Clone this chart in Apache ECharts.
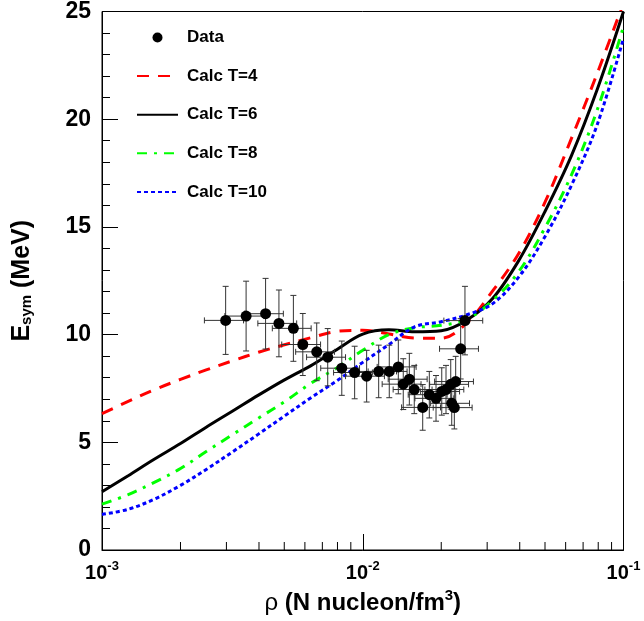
<!DOCTYPE html>
<html><head><meta charset="utf-8">
<script src="https://cdn.jsdelivr.net/npm/echarts@6/dist/echarts.min.js"></script>
<style>html,body{margin:0;padding:0;background:#fff}#c{width:644px;height:621px}</style>
</head><body><div id="c"></div>
<script>
// ---- data points (density in nucleon/fm^3, Esym in MeV) ----
const dataX = [0.00298, 0.00357, 0.00424, 0.00477, 0.00542, 0.00589, 0.00666, 0.00734, 0.00831, 0.00931,
  0.01035, 0.01151, 0.01264, 0.01369, 0.01430, 0.01509, 0.01576, 0.01698, 0.01800, 0.01910,
  0.02009, 0.02086, 0.02175, 0.02272, 0.02194, 0.02245, 0.02374, 0.02466];
const dataY = [10.66, 10.86, 10.97, 10.52, 10.29, 9.54, 9.20, 8.95, 8.44, 8.24,
  8.07, 8.29, 8.29, 8.50, 7.70, 7.93, 7.45, 6.62, 7.21, 7.04,
  7.36, 7.45, 7.69, 7.82, 6.81, 6.61, 9.34, 10.65];
const dataXErr = [0.00051, 0.00061, 0.00072, 0.00081, 0.00092, 0.00100, 0.00113, 0.00125, 0.00141, 0.00158,
  0.00176, 0.00196, 0.00215, 0.00233, 0.00243, 0.00257, 0.00268, 0.00289, 0.00306, 0.00325,
  0.00342, 0.00355, 0.00370, 0.00386, 0.00373, 0.00382, 0.00404, 0.00419];
const dataYErr = [1.58, 1.62, 1.64, 1.55, 1.53, 1.44, 1.34, 1.33, 1.26, 1.22,
  1.20, 1.22, 1.22, 1.25, 1.18, 1.20, 1.12, 1.06, 1.08, 1.06,
  1.10, 1.12, 1.15, 1.17, 1.02, 0.99, 1.40, 1.59];

// ---- calculations ----
const curveX = [0.001, 0.00126, 0.00158, 0.002, 0.00251, 0.00316, 0.00398, 0.00501, 0.00631, 0.00794,
  0.01, 0.0126, 0.0158, 0.02, 0.0251, 0.0316, 0.0398, 0.0501, 0.0631, 0.0794, 0.1];
const calcT4 = [6.33, 6.90, 7.43, 7.92, 8.36, 8.78, 9.18, 9.53, 9.85, 10.15,
  10.2, 10.03, 9.84, 9.83, 10.55, 12.05, 13.8, 16.17, 19.1, 22.15, 25.4];
const calcT6 = [2.70, 3.45, 4.20, 4.94, 5.70, 6.44, 7.19, 7.90, 8.55, 9.30,
  10.02, 10.22, 10.13, 10.18, 10.68, 11.7, 13.47, 15.74, 18.3, 21.4, 25.0];
const calcT8 = [2.13, 2.57, 3.13, 3.78, 4.57, 5.35, 6.12, 6.88, 7.73, 8.45,
  9.27, 10.0, 10.32, 10.43, 10.72, 11.6, 12.95, 14.98, 17.4, 20.45, 24.31];
const calcT10 = [1.65, 1.89, 2.35, 3.00, 3.74, 4.55, 5.38, 6.22, 7.06, 7.85,
  8.71, 9.54, 10.36, 10.6, 10.92, 11.45, 12.7, 14.57, 16.92, 19.77, 23.76];

// ---- axes ----
const xMin = 0.001, xMax = 0.1;
const xMinorTicks = [0.002, 0.003, 0.004, 0.005, 0.006, 0.007, 0.008, 0.009,
  0.02, 0.03, 0.04, 0.05, 0.06, 0.07, 0.08, 0.09];
const yMin = 0, yMax = 25, yStep = 5;
const seriesNames = ['Data', 'Calc T=4', 'Calc T=6', 'Calc T=8', 'Calc T=10'];

const FONT = 'Liberation Sans';
const pairs = (xs, ys) => xs.map((x, i) => [x, ys[i]]);
const chart = echarts.init(document.getElementById('c'), null, {renderer: 'canvas'});

const lineSeries = (name, ys, color, type) => ({
  name, type: 'line', data: pairs(curveX, ys), symbol: 'none', showSymbol: false,
  smooth: 0.35, clip: true, z: 2,
  lineStyle: {color, width: 3, type}, itemStyle: {color}
});

chart.setOption({
  animation: false,
  grid: {left: 102, right: 20.5, top: 10.5, bottom: 71, show: true, borderColor: '#000', borderWidth: 1},
  legend: {
    orient: 'vertical', left: 131, top: 24, itemWidth: 41, itemHeight: 10, itemGap: 21.6,
    data: seriesNames.map((n, i) => i === 0 ? {name: n} : {name: n, itemStyle: {opacity: 0}}),
    textStyle: {fontFamily: FONT, fontWeight: 'bold', fontSize: 17, color: '#000', padding: [0, 0, 0, 4]}
  },
  xAxis: {
    type: 'log', logBase: 10, min: xMin, max: xMax,
    axisLine: {lineStyle: {color: '#000', width: 1}},
    axisTick: {inside: true, length: 16, lineStyle: {color: '#000'}},
    splitLine: {show: false},
    axisLabel: {
      margin: 10,
      formatter: v => '{b|10}{s|' + Math.round(Math.log10(v)) + '}',
      rich: {
        b: {fontFamily: FONT, fontWeight: 'bold', fontSize: 20, color: '#000'},
        s: {fontFamily: FONT, fontWeight: 'bold', fontSize: 13, color: '#000', padding: [0, 0, 14, 0]}
      }
    },
    name: '{r|ρ}{b| (N nucleon/fm}{s|3}{b|)}',
    nameLocation: 'middle', nameGap: 37,
    nameTextStyle: {
      rich: {
        r: {fontFamily: FONT, fontSize: 24, color: '#000'},
        b: {fontFamily: FONT, fontWeight: 'bold', fontSize: 24, color: '#000'},
        s: {fontFamily: FONT, fontWeight: 'bold', fontSize: 15, color: '#000', padding: [0, 0, 14, 0]}
      }
    }
  },
  yAxis: {
    type: 'value', min: yMin, max: yMax, interval: yStep,
    axisLine: {lineStyle: {color: '#000', width: 1}},
    axisTick: {inside: true, length: 16, lineStyle: {color: '#000'}},
    minorTick: {show: true, splitNumber: 5, length: 8, lineStyle: {color: '#000'}},
    splitLine: {show: false},
    axisLabel: {margin: 11, fontFamily: FONT, fontWeight: 'bold', fontSize: 23, color: '#000'},
    name: '{b|E}{sub|sym}{b| (MeV)}',
    nameLocation: 'middle', nameGap: 67,
    nameTextStyle: {
      rich: {
        b: {fontFamily: FONT, fontWeight: 'bold', fontSize: 25, color: '#000'},
        sub: {fontFamily: FONT, fontWeight: 'bold', fontSize: 15, color: '#000', padding: [9, 0, 0, 0]}
      }
    }
  },
  series: [
    {
      type: 'custom', silent: true, clip: false, z: 1,
      data: xMinorTicks.map(v => [v, yMin]),
      encode: {x: 0, y: 1},
      renderItem: (p, api) => {
        const c = api.coord([api.value(0), api.value(1)]);
        return {type: 'line', shape: {x1: c[0], y1: c[1], x2: c[0], y2: c[1] - 8},
          style: {stroke: '#000', lineWidth: 1}};
      }
    },
    {
      type: 'custom', silent: true, z: 3,
      data: dataX.map((x, i) => [x, dataY[i], dataXErr[i], dataYErr[i]]),
      encode: {x: 0, y: 1},
      renderItem: (p, api) => {
        const x = api.value(0), y = api.value(1), xe = api.value(2), ye = api.value(3);
        const l = api.coord([x - xe, y]), r = api.coord([x + xe, y]);
        const t = api.coord([x, y + ye]), b = api.coord([x, y - ye]);
        const st = {stroke: '#333', lineWidth: 1};
        const cap = 3;
        const ln = (x1, y1, x2, y2) => ({type: 'line', shape: {x1, y1, x2, y2}, style: st});
        return {type: 'group', children: [
          ln(l[0], l[1], r[0], r[1]),
          ln(t[0], t[1], b[0], b[1]),
          ln(l[0], l[1] - cap, l[0], l[1] + cap),
          ln(r[0], r[1] - cap, r[0], r[1] + cap),
          ln(t[0] - cap, t[1], t[0] + cap, t[1]),
          ln(b[0] - cap, b[1], b[0] + cap, b[1])
        ]};
      }
    },
    {
      name: 'Data', type: 'scatter', data: pairs(dataX, dataY), symbol: 'circle', symbolSize: 11,
      itemStyle: {color: '#000', opacity: 1}, z: 4
    },
    lineSeries('Calc T=4', calcT4, '#ff0000', [12, 9]),
    lineSeries('Calc T=6', calcT6, '#000000', 'solid'),
    lineSeries('Calc T=8', calcT8, '#00ff00', [10, 7, 3, 7]),
    lineSeries('Calc T=10', calcT10, '#0000ff', [4, 3])
  ]
});
</script></body></html>
